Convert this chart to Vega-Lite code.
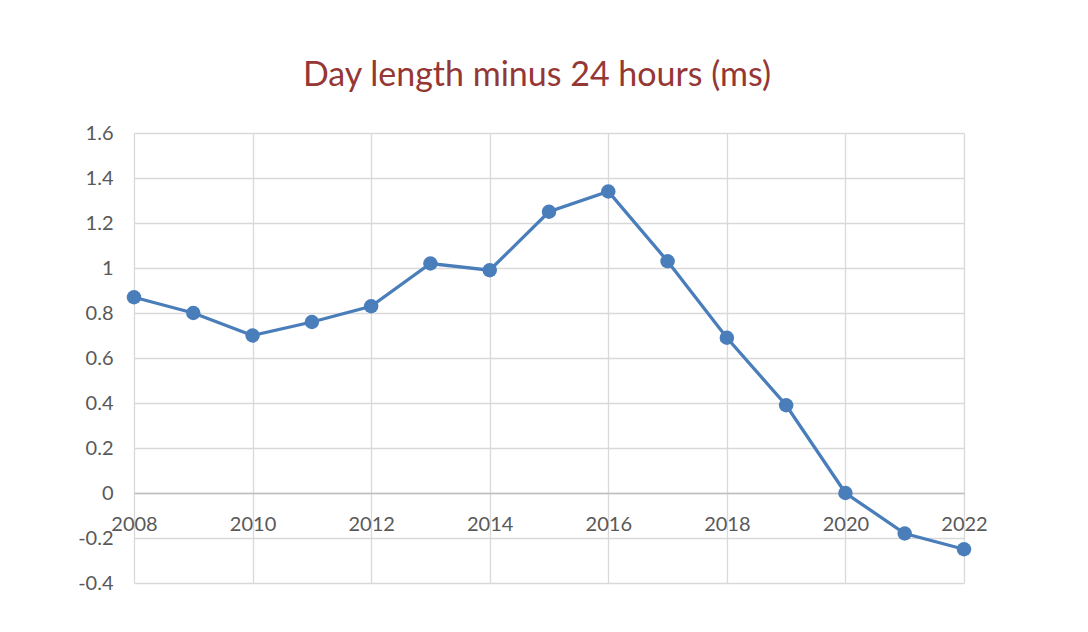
{
  "$schema": "https://vega.github.io/schema/vega-lite/v6.json",
  "width": 830,
  "height": 450,
  "autosize": {"type": "none"},
  "padding": {"left": 134, "top": 133, "right": 124, "bottom": 49},
  "background": "white",
  "title": {
    "text": "Day length minus 24 hours (ms)",
    "font": "Lato",
    "fontSize": 34,
    "fontWeight": "normal",
    "color": "#953735",
    "anchor": "middle",
    "dx": -12,
    "offset": 30
  },
  "config": {
    "view": {"stroke": null},
    "axis": {
      "labelFont": "Lato",
      "labelFontSize": 20,
      "labelColor": "#595959",
      "gridColor": "#d9d9d9",
      "gridWidth": 1.3,
      "ticks": false,
      "title": null
    }
  },
  "data": {
    "values": [
      {"year": 2008, "ms": 0.87},
      {"year": 2009, "ms": 0.80},
      {"year": 2010, "ms": 0.70},
      {"year": 2011, "ms": 0.76},
      {"year": 2012, "ms": 0.83},
      {"year": 2013, "ms": 1.02},
      {"year": 2014, "ms": 0.99},
      {"year": 2015, "ms": 1.25},
      {"year": 2016, "ms": 1.34},
      {"year": 2017, "ms": 1.03},
      {"year": 2018, "ms": 0.69},
      {"year": 2019, "ms": 0.39},
      {"year": 2020, "ms": 0.00},
      {"year": 2021, "ms": -0.18},
      {"year": 2022, "ms": -0.25}
    ]
  },
  "mark": {
    "type": "line",
    "color": "#4a7ebb",
    "strokeWidth": 3.3,
    "point": {"filled": true, "size": 210, "color": "#4a7ebb", "opacity": 1}
  },
  "encoding": {
    "x": {
      "field": "year",
      "type": "quantitative",
      "scale": {"domain": [2008, 2022], "nice": false, "zero": false},
      "axis": {
        "values": [2008, 2010, 2012, 2014, 2016, 2018, 2020, 2022],
        "format": "d",
        "offset": -90,
        "domain": true,
        "domainColor": "#bfbfbf",
        "domainWidth": 1.3,
        "labelPadding": 21,
        "labelFlush": false
      }
    },
    "y": {
      "field": "ms",
      "type": "quantitative",
      "scale": {"domain": [-0.4, 1.6], "nice": false},
      "axis": {
        "values": [-0.4, -0.2, 0, 0.2, 0.4, 0.6, 0.8, 1, 1.2, 1.4, 1.6],
        "labelExpr": "'' + datum.value",
        "domain": false,
        "labelPadding": 21
      }
    }
  }
}
